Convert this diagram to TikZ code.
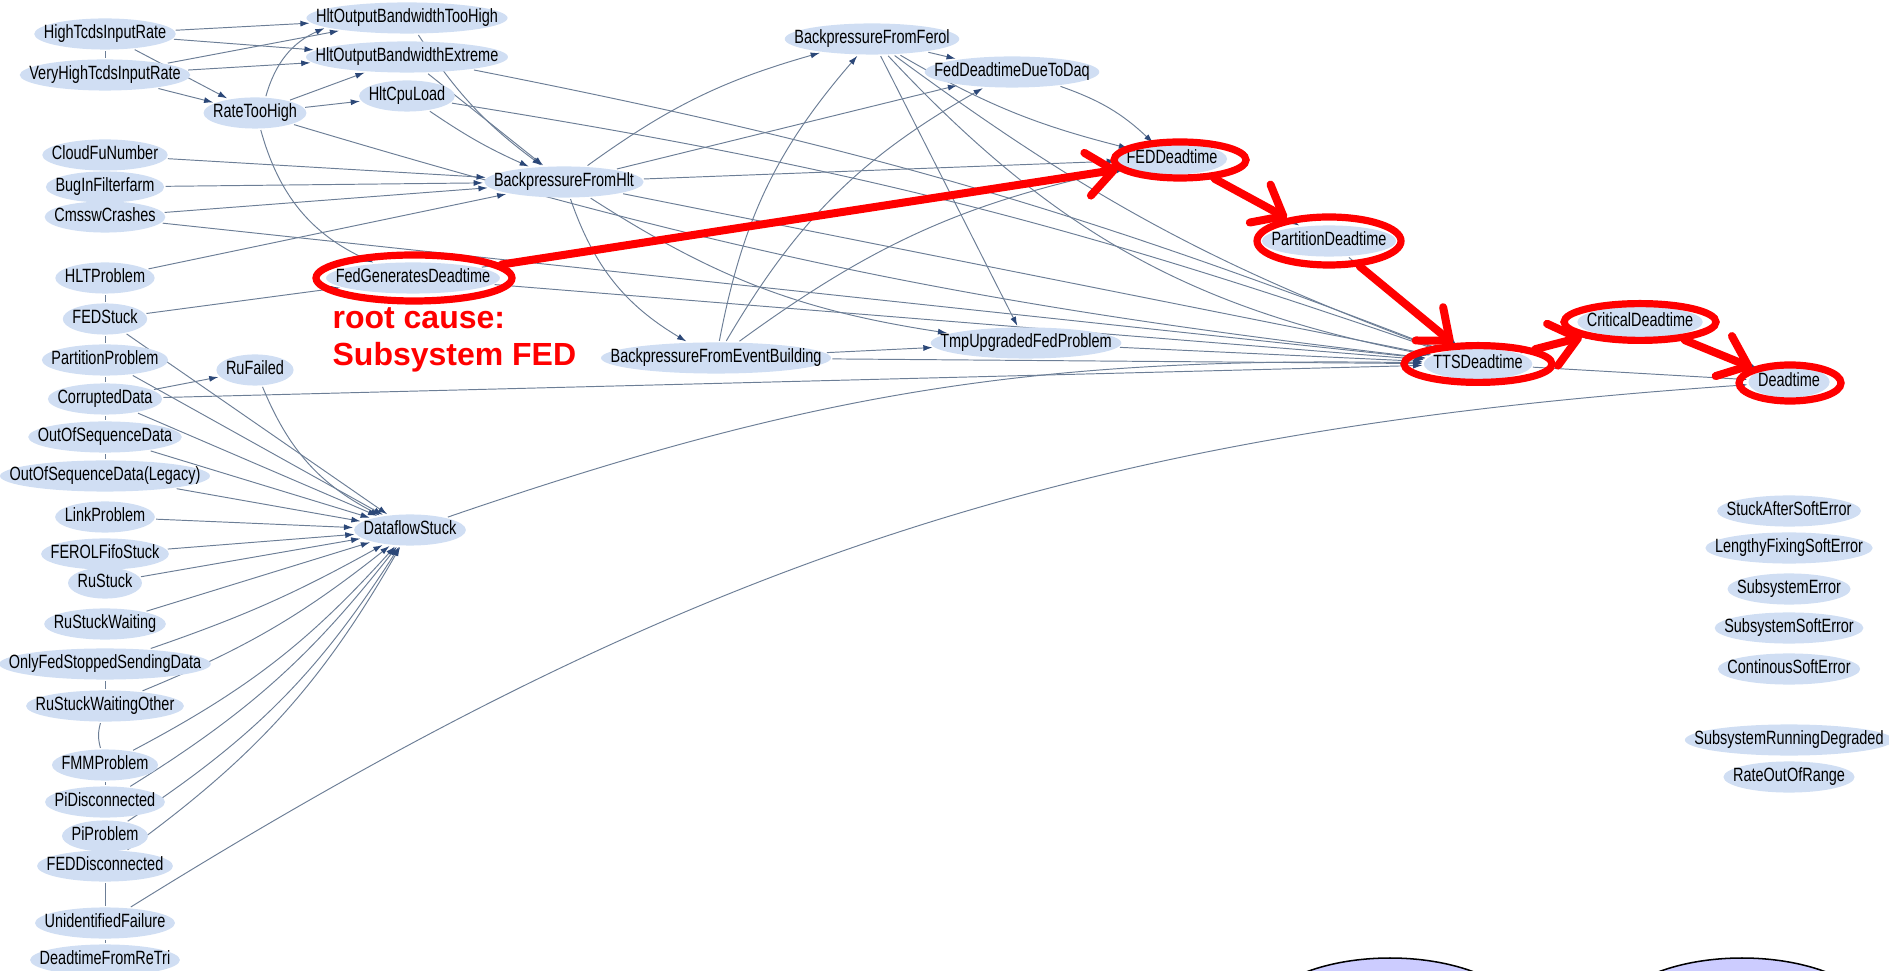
\documentclass[tikz,border=0pt]{standalone}
\usepackage{fontspec}
\usetikzlibrary{arrows.meta, shapes.geometric, backgrounds}
\newfontfamily\nodefont[FakeStretch=0.754]{Liberation Sans}
\newfontfamily\notefont{Liberation Sans}
\definecolor{nodeblue}{RGB}{208,222,243}
\definecolor{edgegray}{RGB}{108,126,150}
\definecolor{tipblue}{RGB}{44,72,120}
\definecolor{lavender}{RGB}{204,204,255}

\begin{document}
\begin{tikzpicture}[
        yscale=-1,
        x=0.125pt,
        y=0.125pt,
        ->,
        >={Latex[length=1.15pt, width=0.75pt, color=tipblue]},
        every edge/.append style={draw=edgegray, line width=0.12pt},
        ev/.style={ellipse, fill=nodeblue, font=\nodefont\fontsize{2.4}{2.5}\selectfont,
            text height=1.65pt, text depth=0.5pt, inner ysep=0.3pt,
            inner xsep={0.85pt-0.1464\wd\pgfnodeparttextbox}},
        ring/.style={ellipse, draw=red, line width=0.9pt, inner sep=0pt},
        hot/.style={red, line width=1pt, line cap=round,
            -{Straight Barb[length=3.3pt, width=5.4pt, round]}},
        blob/.style={ellipse, draw=black, line width=0.19pt, fill=lavender, inner sep=0pt,
            minimum width=35pt, minimum height=17.5pt}
    ]
    \path[use as bounding box, clip] (0,0) rectangle (1889,971);

    % left column
    \node[ev] (hightcds) at (105,34) {HighTcdsInputRate};
    \node[ev] (veryhigh) at (105,75) {VeryHighTcdsInputRate};
    \node[ev] (cloudfu) at (105,155) {CloudFuNumber};
    \node[ev] (bugff) at (105,187) {BugInFilterfarm};
    \node[ev] (cmssw) at (105,217) {CmsswCrashes};
    \node[ev] (hltprob) at (105,278) {HLTProblem};
    \node[ev] (fedstuck) at (105,319) {FEDStuck};
    \node[ev] (partprob) at (105,360) {PartitionProblem};
    \node[ev] (corrupt) at (105,399) {CorruptedData};
    \node[ev] (oosd) at (105,437) {OutOfSequenceData};
    \node[ev] (oosdleg) at (105,476) {OutOfSequenceData(Legacy)};
    \node[ev] (linkprob) at (105,517) {LinkProblem};
    \node[ev] (ferolfifo) at (105,554) {FEROLFifoStuck};
    \node[ev] (rustuck) at (105,583) {RuStuck};
    \node[ev] (ruwait) at (105,624) {RuStuckWaiting};
    \node[ev] (onlyfed) at (105,664) {OnlyFedStoppedSendingData};
    \node[ev] (ruwaitoth) at (105,706) {RuStuckWaitingOther};
    \node[ev] (fmmprob) at (105,765) {FMMProblem};
    \node[ev] (pidisc) at (105,802) {PiDisconnected};
    \node[ev] (piprob) at (105,836) {PiProblem};
    \node[ev] (feddisc) at (105,866) {FEDDisconnected};
    \node[ev] (unident) at (105,923) {UnidentifiedFailure};
    \node[ev] (retri) at (105,960) {DeadtimeFromReTri};

    % middle
    \node[ev] (bwhigh) at (407,18) {HltOutputBandwidthTooHigh};
    \node[ev] (bwext) at (407,57) {HltOutputBandwidthExtreme};
    \node[ev] (ratehigh) at (255,113) {RateTooHigh};
    \node[ev] (cpuload) at (407,96) {HltCpuLoad};
    \node[ev] (bphlt) at (564,182) {BackpressureFromHlt};
    \node[ev] (fedgen) at (413,278) {FedGeneratesDeadtime};
    \node[ev] (rufail) at (255,370) {RuFailed};
    \node[ev] (dfstuck) at (410,530) {DataflowStuck};
    \node[ev] (bpferol) at (872,39) {BackpressureFromFerol};
    \node[ev] (feddaq) at (1012,72) {FedDeadtimeDueToDaq};
    \node[ev] (bpeb) at (716,358) {BackpressureFromEventBuilding};
    \node[ev] (tmpfed) at (1026,343) {TmpUpgradedFedProblem};

    % right
    \node[ev] (feddead) at (1172,159) {FEDDeadtime};
    \node[ev] (partdead) at (1329,241) {PartitionDeadtime};
    \node[ev] (ttsdead) at (1478,364) {TTSDeadtime};
    \node[ev] (critdead) at (1640,322) {CriticalDeadtime};
    \node[ev] (dead) at (1789,382) {Deadtime};
    \node[ev] (stucksoft) at (1789,511) {StuckAfterSoftError};
    \node[ev] (lengthy) at (1789,548) {LengthyFixingSoftError};
    \node[ev] (subserr) at (1789,589) {SubsystemError};
    \node[ev] (subssoft) at (1789,628) {SubsystemSoftError};
    \node[ev] (contsoft) at (1789,669) {ContinousSoftError};
    \node[ev] (subsdeg) at (1789,740) {SubsystemRunningDegraded};
    \node[ev] (rateoor) at (1789,777) {RateOutOfRange};

    \node[blob] (ovall) at (1390,1028) {};
    \node[blob] (ovalr) at (1742,1028) {};

    \begin{pgfonlayer}{background}
    \draw (hightcds) edge (bwhigh);
    \draw (hightcds) edge (bwext);
    \draw (hightcds) edge (ratehigh);
    \draw (veryhigh) edge (bwhigh);
    \draw (veryhigh) edge (bwext);
    \draw (veryhigh) edge (ratehigh);
    \draw (ratehigh) edge[bend right=25] (bwhigh);
    \draw (ratehigh) edge (bwext);
    \draw (ratehigh) edge (cpuload);
    \draw (ratehigh) edge[bend left=25] (fedgen);
    \draw (ratehigh) edge[bend left=5] (ttsdead);
    \draw (bwhigh) edge[bend left=10] (bphlt);
    \draw (bwext) edge (bphlt);
    \draw (bwext) edge[bend right=5] (ttsdead);
    \draw (cpuload) edge[bend left=5] (bphlt);
    \draw (cpuload) edge[bend right=5] (ttsdead);
    \draw (cloudfu) edge (bphlt);
    \draw (bugff) edge (bphlt);
    \draw (cmssw) edge (bphlt);
    \draw (cmssw) edge (ttsdead);
    \draw (hltprob) edge (bphlt);
    \draw (fedstuck) edge (fedgen);
    \draw (fedgen) edge (feddead);
    \draw (fedgen) edge (ttsdead);
    \draw (bphlt) edge[bend right=10] (bpferol);
    \draw (bphlt) edge (feddaq);
    \draw (bphlt) edge (feddead);
    \draw (bphlt) edge[bend left=20] (bpeb);
    \draw (bphlt) edge[bend left=12] (tmpfed);
    \draw (bphlt) edge (ttsdead);
    \draw (bpeb) edge[bend right=15] (bpferol);
    \draw (bpeb) edge[bend right=15] (feddaq);
    \draw (bpeb) edge[bend right=12] (feddead);
    \draw (bpeb) edge (tmpfed);
    \draw (bpeb) edge (ttsdead);
    \draw (bpferol) edge (feddaq);
    \draw (bpferol) edge[bend left=8] (feddead);
    \draw (bpferol) edge (tmpfed);
    \draw (bpferol) edge[bend left=18] (ttsdead);
    \draw (bpferol) edge[bend left=8] (ttsdead);
    \draw (feddaq) edge[bend right=12] (feddead);
    \draw (feddead) edge (partdead);
    \draw (partdead) edge (ttsdead);
    \draw (ttsdead) edge (critdead);
    \draw (critdead) edge (dead);
    \draw (ttsdead) edge (dead);
    \draw (tmpfed) edge (ttsdead);
    \draw (corrupt) edge (rufail);
    \draw (corrupt) edge (ttsdead);
    \draw (rufail) edge[bend left=20] (dfstuck);
    \draw (dfstuck) edge[bend right=10] (ttsdead);
    \draw (unident) edge[bend right=14] (dead);
    % everything that stops the dataflow
    \draw (fedstuck) edge (dfstuck);
    \draw (partprob) edge (dfstuck);
    \draw (corrupt) edge (dfstuck);
    \draw (oosd) edge (dfstuck);
    \draw (oosdleg) edge (dfstuck);
    \draw (linkprob) edge (dfstuck);
    \draw (ferolfifo) edge (dfstuck);
    \draw (rustuck) edge (dfstuck);
    \draw (ruwait) edge (dfstuck);
    \draw (onlyfed) edge[bend left=5] (dfstuck);
    \draw (ruwaitoth) edge[bend left=8] (dfstuck);
    \draw (fmmprob) edge[bend left=10] (dfstuck);
    \draw (pidisc) edge[bend left=10] (dfstuck);
    \draw (piprob) edge[bend left=12] (dfstuck);
    \draw (feddisc) edge[bend left=12] (dfstuck);
    % links hidden behind the column
    \draw[-, edgegray, line width=0.12pt] (hightcds) -- (veryhigh)
        (hltprob) -- (fedstuck) (fedstuck) -- (partprob)
        (partprob) -- (corrupt) (corrupt) -- (oosd) (oosd) -- (oosdleg)
        (onlyfed) -- (ruwaitoth) (fmmprob) -- (pidisc)
        (feddisc) -- (unident) (unident) -- (retri);
    \draw[-, edgegray, line width=0.12pt] (ruwaitoth) to[bend left=15] (fmmprob);
    \end{pgfonlayer}

    % the path of the root cause
    \node[ring, minimum width=24.5pt, minimum height=5.75pt] (rfedgen) at (414,278) {};
    \node[ring, minimum width=16.5pt, minimum height=4.5pt] (rfeddead) at (1180,160) {};
    \node[ring, minimum width=18pt, minimum height=6pt] (rpartdead) at (1329,241) {};
    \node[ring, minimum width=18.5pt, minimum height=4.6pt] (rttsdead) at (1478,364) {};
    \node[ring, minimum width=19pt, minimum height=4.6pt] (rcritdead) at (1640,322) {};
    \node[ring, minimum width=12.75pt, minimum height=4.5pt] (rdead) at (1790,383) {};
    \draw[hot] (rfedgen) -- (rfeddead);
    \draw[hot] (rfeddead) -- (rpartdead);
    \draw[hot] (rpartdead) -- (rttsdead);
    \draw[hot] (rttsdead) -- (rcritdead);
    \draw[hot] (rcritdead) -- (rdead);

    \node[font=\notefont\bfseries\fontsize{4}{4.7}\selectfont, text=red, align=left,
        anchor=west, inner sep=0pt] (cause) at (331,340) {root cause:\\Subsystem FED};
\end{tikzpicture}
\end{document}
